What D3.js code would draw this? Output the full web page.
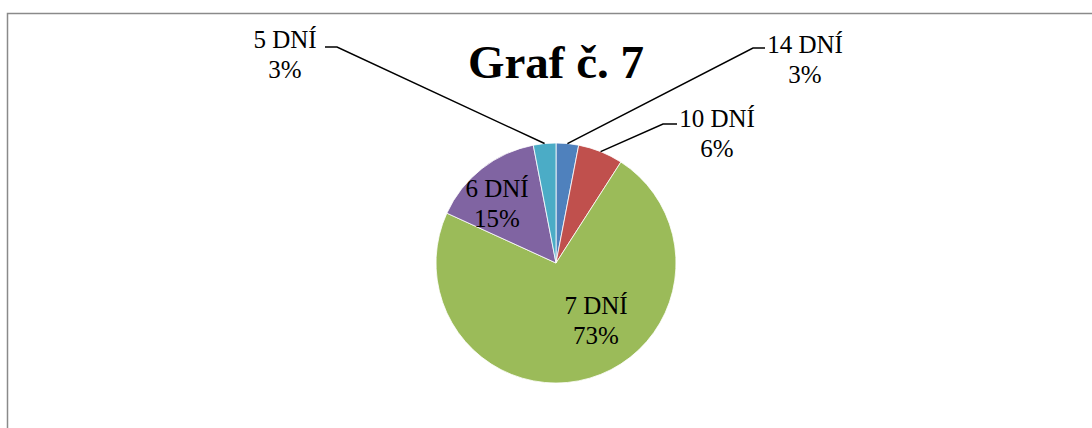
<!DOCTYPE html>
<html>
<head>
<meta charset="utf-8">
<script src="https://cdn.jsdelivr.net/npm/d3@7"></script>
<style>
  html, body { margin: 0; padding: 0; background: #fff; }
  svg { display: block; }
</style>
</head>
<body>
<div id="chart"></div>
<script>
const categories = ['14 DNÍ', '10 DNÍ', '7 DNÍ', '6 DNÍ', '5 DNÍ'];
const counts = [1, 2, 24, 5, 1];
const sliceColors = ['#4F81BD', '#C0504D', '#9BBB59', '#8064A2', '#4BACC6'];
const title = 'Graf č. 7';

const width = 1092, height = 428;
const cx = 556, cy = 263, radius = 120;
const serif = "'Liberation Serif', 'Times New Roman', Times, 'DejaVu Serif', serif";

// label placement (Excel-style best fit), absolute page coords
const labelLayout = {
  '14 DNÍ': { x: 805, y: 53, leader: [[753, 48], [765, 48]] },
  '10 DNÍ': { x: 717, y: 127, leader: [[663, 124], [677, 124]] },
  '7 DNÍ':  { x: 596, y: 314 },
  '6 DNÍ':  { x: 497, y: 197 },
  '5 DNÍ':  { x: 285, y: 48, leader: [[337, 47], [325, 47]] }
};

const data = categories.map((c, i) => ({ cat: c, value: counts[i], color: sliceColors[i] }));
const total = d3.sum(counts);
const pct = d3.format('.0%');

const svg = d3.select('#chart').append('svg').attr('width', width).attr('height', height);

// chart area border (continues past the right/bottom edge)
svg.append('rect')
  .attr('x', 7.5).attr('y', 13.5)
  .attr('width', 1200).attr('height', 600)
  .attr('fill', 'none').attr('stroke', '#8a8a8a').attr('stroke-width', 1.5);

svg.append('text')
  .attr('x', cx).attr('y', 78)
  .attr('text-anchor', 'middle')
  .style('font-family', serif)
  .attr('font-size', 47).attr('font-weight', 'bold')
  .text(title);

const pie = d3.pie().sort(null).value(d => d.value);
const arcs = pie(data);
const arc = d3.arc().innerRadius(0).outerRadius(radius);
const edge = d3.arc().innerRadius(radius).outerRadius(radius);

const g = svg.append('g').attr('transform', `translate(${cx},${cy})`);
g.selectAll('path').data(arcs).enter().append('path')
  .attr('d', arc)
  .attr('fill', d => d.data.color)
  .attr('stroke', '#fff').attr('stroke-width', 0.8);

// leader lines
const line = d3.line();
arcs.forEach(d => {
  const lay = labelLayout[d.data.cat];
  if (!lay.leader) return;
  const [ex, ey] = edge.centroid(d);
  const pts = [[cx + ex, cy + ey], ...lay.leader];
  svg.append('path').attr('d', line(pts))
    .attr('fill', 'none').attr('stroke', '#000').attr('stroke-width', 1.5);
});

// labels
arcs.forEach(d => {
  const lay = labelLayout[d.data.cat];
  const t = svg.append('text')
    .attr('text-anchor', 'middle')
    .style('font-family', serif)
    .attr('font-size', 25).attr('fill', '#000');
  t.append('tspan').attr('x', lay.x).attr('y', lay.y).text(d.data.cat);
  t.append('tspan').attr('x', lay.x).attr('y', lay.y + 30).text(pct(d.data.value / total));
});
</script>
</body>
</html>
